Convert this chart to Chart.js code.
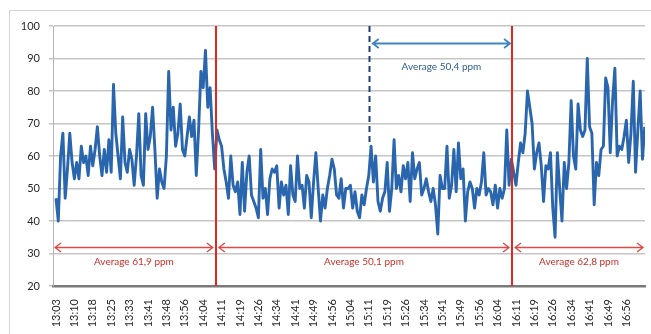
<!DOCTYPE html>
<html>
<head>
<meta charset="utf-8">
<script src="https://cdn.jsdelivr.net/npm/chart.js@4"></script>
<style>
  html, body { margin: 0; padding: 0; background: #fff; }
  #wrap { width: 651px; height: 334px; position: relative; }
</style>
</head>
<body>
<div id="wrap"><canvas id="c" width="651" height="334"></canvas></div>
<script>
// Time labels printed along the x axis (one every 8 samples)
const tickLabels = [
  '13:03','13:10','13:18','13:25','13:33','13:41','13:48','13:56',
  '14:04','14:11','14:19','14:26','14:34','14:41','14:49','14:56',
  '15:04','15:11','15:19','15:26','15:34','15:41','15:49','15:56',
  '16:04','16:11','16:19','16:26','16:34','16:41','16:49','16:56'
];
const samplesPerTick = 8;

// CO2 concentration (ppm), one reading per sample
const co2Ppm = [
  47,40,60,67,47,56,67,58,53,58,
  53,63,58,60,54,63,57,62,69,60,
  54,62,55,65,55,82,67,60,53,72,
  58,55,62,59,51,60,73,54,51,73,
  62,66,75,62,47,56,52,50,60,86,
  68,75,63,67,76,62,60,66,72,66,
  71,54,68,86,81,92.5,75,81,67,56,
  68,65,63,56,52,47,60,51,49,52,
  42,58,43,55,60,48,46,44,41,62,
  47,50,42,53,56,55,57,44,52,48,
  51,42,57,48,46,60,50,51,44,54,
  52,41,52,61,50,40,48,44,50,54,
  59,56,48,47,53,44,50,50,51,44,
  49,43,41,48,45,50,54,63,52,60,
  46,43,47,49,58,43,50,65,50,54,
  49,57,53,58,46,61,53,56,58,48,
  50,53,49,46,50,45,36,54,50,50,
  63,47,51,62,49,64,53,56,40,49,
  52,50,44,50,48,52,61,48,50,49,
  45,51,44,50,47,50,68,51,59,55,
  51,58,64,61,67,80,75,70,56,61,
  64,57,46,57,56,61,44,35,61,50,
  40,58,50,58,77,60,56,76,68,66,
  68,90,69,67,45,58,54,62,63,84,
  81,61,77,87,60,63,62,66,71,58,
  67,83,55,68,80,59,69
];

// Measurement periods, as sample positions, and their stated averages
const periodBounds = [-1.3, 69.5, 198.3, 256.1];
const periodLabels = ['Average 61,9 ppm', 'Average 50,1 ppm', 'Average 62,8 ppm'];
const subPeriod = [136, 198.3];
const subPeriodLabel = 'Average 50,4 ppm';

const yTicks = [20, 30, 40, 50, 60, 70, 80, 90, 100];

function chevronLine(ctx, x1, x2, y, color, width) {
  const h = 4.5, w = 6;
  ctx.save();
  ctx.strokeStyle = color;
  ctx.lineWidth = width;
  ctx.lineJoin = 'miter';
  ctx.beginPath();
  ctx.moveTo(x1, y); ctx.lineTo(x2, y);
  ctx.moveTo(x1 + w, y - h); ctx.lineTo(x1, y); ctx.lineTo(x1 + w, y + h);
  ctx.moveTo(x2 - w, y - h); ctx.lineTo(x2, y); ctx.lineTo(x2 - w, y + h);
  ctx.stroke();
  ctx.restore();
}

const periodMarks = {
  id: 'periodMarks',
  afterDatasetsDraw(chart) {
    const { ctx, chartArea, scales: { x, y } } = chart;
    ctx.save();
    // period boundaries
    ctx.strokeStyle = '#e3261f';
    ctx.lineWidth = 2;
    for (const b of periodBounds.slice(1, -1)) {
      const px = Math.round(x.getPixelForValue(b));
      ctx.beginPath();
      ctx.moveTo(px, chartArea.top);
      ctx.lineTo(px, chartArea.bottom);
      ctx.stroke();
    }
    // start of the last 50,4 ppm stretch
    const dx = Math.round(x.getPixelForValue(subPeriod[0])) + 0.5;
    ctx.strokeStyle = '#1d3f73';
    ctx.setLineDash([6, 4]);
    ctx.beginPath();
    ctx.moveTo(dx, chartArea.top);
    ctx.lineTo(dx, y.getPixelForValue(63));
    ctx.stroke();
    ctx.setLineDash([]);

    // period averages
    ctx.font = '10px Lato, "Open Sans", sans-serif';
    ctx.textAlign = 'center';
    ctx.textBaseline = 'middle';
    const ay = Math.round(y.getPixelForValue(32)) + 0.5;
    const ty = y.getPixelForValue(27.4);
    for (let k = 0; k < periodLabels.length; k++) {
      const a = x.getPixelForValue(periodBounds[k]) + (k === 0 ? 2 : 3);
      const b = x.getPixelForValue(periodBounds[k + 1]) - (k === periodLabels.length - 1 ? 2 : 3);
      chevronLine(ctx, a, b, ay, '#de4a47', 1.3);
      ctx.fillStyle = '#c8302b';
      ctx.fillText(periodLabels[k], (a + b) / 2, ty);
    }
    const sa = x.getPixelForValue(subPeriod[0]) + 4;
    const sb = x.getPixelForValue(subPeriod[1]) - 2;
    const sy = Math.round(y.getPixelForValue(94.8)) + 0.5;
    chevronLine(ctx, sa, sb, sy, '#3f86c4', 1.8);
    ctx.fillStyle = '#2b5e92';
    ctx.fillText(subPeriodLabel, (sa + sb) / 2, y.getPixelForValue(87.5));
    ctx.restore();
  }
};

const frame = {
  id: 'frame',
  beforeDraw(chart) {
    const { ctx } = chart;
    ctx.save();
    ctx.fillStyle = '#fff';
    ctx.fillRect(0, 0, chart.width, chart.height);
    ctx.strokeStyle = '#d4d4d4';
    ctx.lineWidth = 1;
    ctx.strokeRect(9.5, 10.5, 645, 330);
    ctx.restore();
  }
};

new Chart(document.getElementById('c'), {
  type: 'line',
  data: {
    datasets: [{
      label: 'CO2 (ppm)',
      data: co2Ppm.map((v, i) => ({ x: i, y: v })),
      borderColor: '#2a66ae',
      borderWidth: 2.9,
      borderJoinStyle: 'round',
      pointRadius: 0,
      tension: 0,
      fill: false
    }]
  },
  options: {
    responsive: false,
    animation: false,
    devicePixelRatio: 1,
    layout: { padding: { top: 26, right: 6, bottom: 0, left: 0 } },
    plugins: { legend: { display: false }, tooltip: { enabled: false } },
    scales: {
      x: {
        type: 'linear',
        min: periodBounds[0],
        max: periodBounds[periodBounds.length - 1],
        afterBuildTicks(scale) {
          scale.ticks = tickLabels.map((_, k) => ({ value: k * samplesPerTick }));
        },
        afterFit(scale) { scale.height = 48; },
        grid: { display: false },
        border: { display: true, color: '#7a7a7a', width: 2.5 },
        ticks: {
          autoSkip: false,
          minRotation: 90,
          maxRotation: 90,
          padding: 5,
          color: '#2a2a2a',
          font: { family: 'Lato, "Open Sans", sans-serif', size: 11 },
          callback: (v) => tickLabels[Math.round(v / samplesPerTick)]
        }
      },
      y: {
        min: 20,
        max: 100,
        afterBuildTicks(scale) {
          scale.ticks = yTicks.map(v => ({ value: v }));
        },
        afterFit(scale) { scale.width = 53; },
        grid: { color: '#c6c6c6', lineWidth: 1.5, tickLength: 4 },
        border: { display: true, color: '#b4b4b4', width: 1 },
        ticks: {
          padding: 9,
          color: '#2a2a2a',
          font: { family: 'Lato, "Open Sans", sans-serif', size: 11 }
        }
      }
    }
  },
  plugins: [frame, periodMarks]
});
</script>
</body>
</html>
